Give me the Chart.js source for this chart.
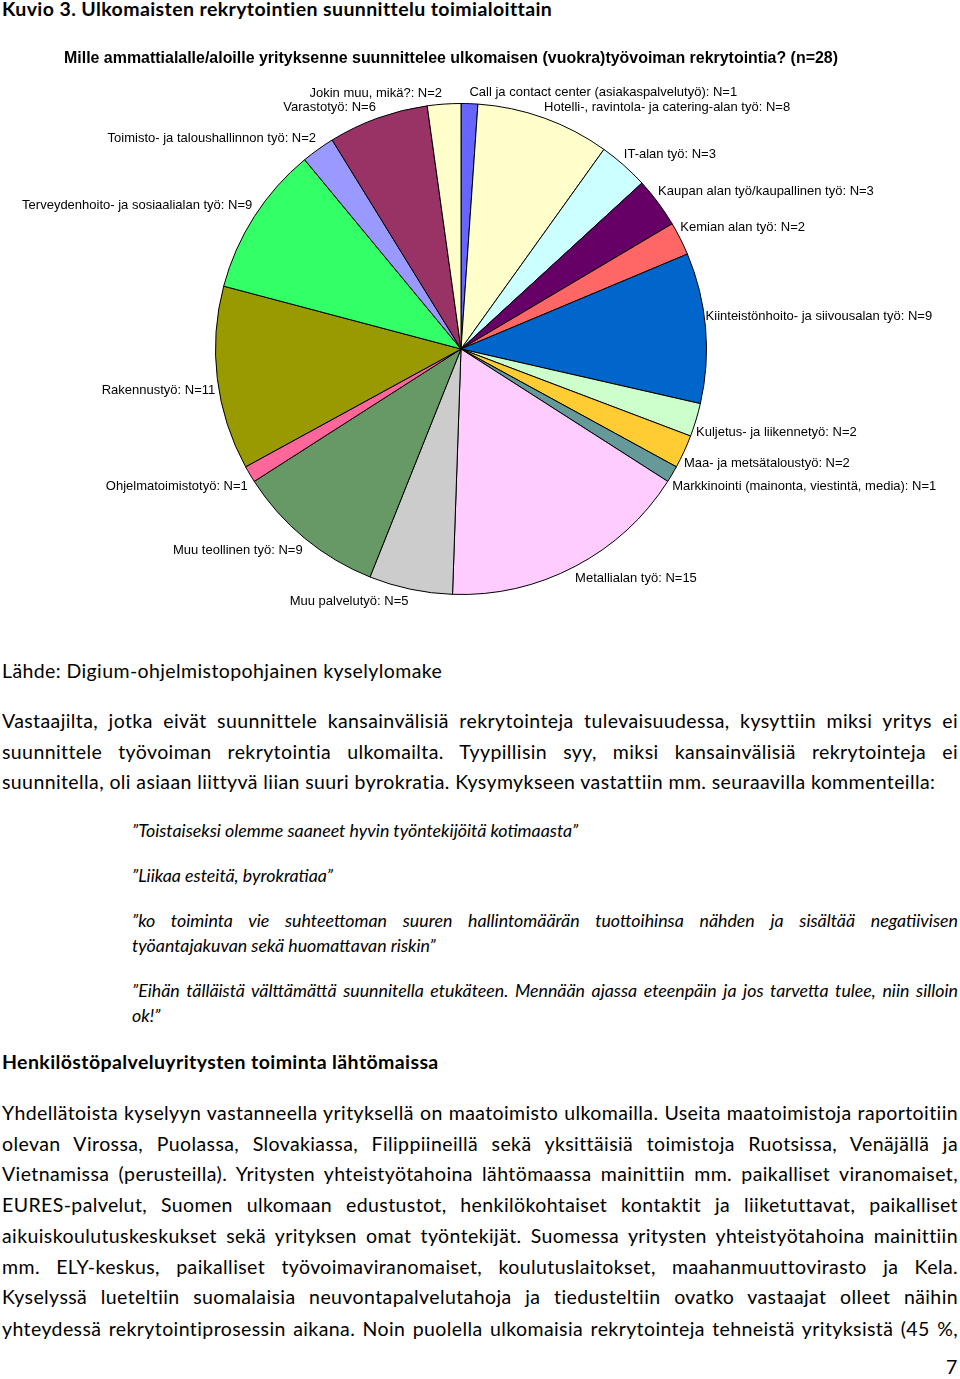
<!DOCTYPE html>
<html>
<head>
<meta charset="utf-8">
<script src="https://cdn.jsdelivr.net/npm/chart.js@4.4.1/dist/chart.umd.min.js"></script>
<style>
  html, body { margin: 0; padding: 0; background: #fff; }
  body { width: 960px; height: 1379px; position: relative; overflow: hidden;
         font-family: Lato, "Open Sans", sans-serif; font-size: 19.5px; letter-spacing: 0.4px; color: #000; }
  .ln { position: absolute; left: 2px; width: 956px; line-height: 24px; white-space: nowrap; }
  .j { text-align: justify; text-align-last: justify; white-space: normal; }
  .q { left: 132px; width: 826px; font-style: italic; font-size: 17.8px; letter-spacing: 0; }
  .b { font-weight: bold; }
  #chartBox { position: absolute; left: 0; top: 36px; width: 960px; height: 584px; letter-spacing: 0; }
  #chartBox canvas { letter-spacing: 0; }
</style>
</head>
<body>
<div class="ln b" style="top:-3px">Kuvio 3. Ulkomaisten rekrytointien suunnittelu toimialoittain</div>

<div id="chartBox"><canvas id="pieChart" width="960" height="584"></canvas></div>

<div class="ln" style="top:659px">Lähde: Digium-ohjelmistopohjainen kyselylomake</div>

<div class="ln j" style="top:709px">Vastaajilta, jotka eivät suunnittele kansainvälisiä rekrytointeja tulevaisuudessa, kysyttiin miksi yritys ei</div>
<div class="ln j" style="top:740px">suunnittele työvoiman rekrytointia ulkomailta. Tyypillisin syy, miksi kansainvälisiä rekrytointeja ei</div>
<div class="ln" style="top:770px">suunnitella, oli asiaan liittyvä liian suuri byrokratia. Kysymykseen vastattiin mm. seuraavilla kommenteilla:</div>

<div class="ln q" style="top:818px">”Toistaiseksi olemme saaneet hyvin työntekijöitä kotimaasta”</div>
<div class="ln q" style="top:863px">”Liikaa esteitä, byrokratiaa”</div>
<div class="ln q j" style="top:908px">”ko toiminta vie suhteettoman suuren hallintomäärän tuottoihinsa nähden ja sisältää negatiivisen</div>
<div class="ln q" style="top:933px">työantajakuvan sekä huomattavan riskin”</div>
<div class="ln q j" style="top:978px">”Eihän tälläistä välttämättä suunnitella etukäteen. Mennään ajassa eteenpäin ja jos tarvetta tulee, niin silloin</div>
<div class="ln q" style="top:1003px">ok!”</div>

<div class="ln b" style="top:1050px">Henkilöstöpalveluyritysten toiminta lähtömaissa</div>

<div class="ln j" style="top:1101px">Yhdellätoista kyselyyn vastanneella yrityksellä on maatoimisto ulkomailla. Useita maatoimistoja raportoitiin</div>
<div class="ln j" style="top:1132px">olevan Virossa, Puolassa, Slovakiassa, Filippiineillä sekä yksittäisiä toimistoja Ruotsissa, Venäjällä ja</div>
<div class="ln j" style="top:1162px">Vietnamissa (perusteilla). Yritysten yhteistyötahoina lähtömaassa mainittiin mm. paikalliset viranomaiset,</div>
<div class="ln j" style="top:1193px">EURES-palvelut, Suomen ulkomaan edustustot, henkilökohtaiset kontaktit ja liiketuttavat, paikalliset</div>
<div class="ln j" style="top:1224px">aikuiskoulutuskeskukset sekä yrityksen omat työntekijät. Suomessa yritysten yhteistyötahoina mainittiin</div>
<div class="ln j" style="top:1255px">mm. ELY-keskus, paikalliset työvoimaviranomaiset, koulutuslaitokset, maahanmuuttovirasto ja Kela.</div>
<div class="ln j" style="top:1285px">Kyselyssä lueteltiin suomalaisia neuvontapalvelutahoja ja tiedusteltiin ovatko vastaajat olleet näihin</div>
<div class="ln j" style="top:1317px">yhteydessä rekrytointiprosessin aikana. Noin puolella ulkomaisia rekrytointeja tehneistä yrityksistä (45 %,</div>

<div class="ln" style="top:1355px;left:946px;width:auto">7</div>

<script>
// --- Data ---
const chartTitle = 'Mille ammattialalle/aloille yrityksenne suunnittelee ulkomaisen (vuokra)työvoiman rekrytointia? (n=28)';

const categories = [
    'Call ja contact center (asiakaspalvelutyö)',
    'Hotelli-, ravintola- ja catering-alan työ',
    'IT-alan työ',
    'Kaupan alan työ/kaupallinen työ',
    'Kemian alan työ',
    'Kiinteistönhoito- ja siivousalan työ',
    'Kuljetus- ja liikennetyö',
    'Maa- ja metsätaloustyö',
    'Markkinointi (mainonta, viestintä, media)',
    'Metallialan työ',
    'Muu palvelutyö',
    'Muu teollinen työ',
    'Ohjelmatoimistotyö',
    'Rakennustyö',
    'Terveydenhoito- ja sosiaalialan työ',
    'Toimisto- ja taloushallinnon työ',
    'Varastotyö',
    'Jokin muu, mikä?'
];

const counts = [1, 8, 3, 3, 2, 9, 2, 2, 1, 15, 5, 9, 1, 11, 9, 2, 6, 2];

const sliceColors = [
    '#6666ff', '#ffffcc', '#ccffff', '#660066', '#ff6666', '#0066cc',
    '#ccffcc', '#ffcc33', '#669999', '#ffccff', '#cccccc', '#669966',
    '#ff6699', '#999900', '#33ff66', '#9999ff', '#993366', '#ffffcc'
];

// --- Title + outside labels (Excel-style, corner touching the rim) ---
const labelPlugin = {
    id: 'pieLabels',
    afterDraw(chart) {
        const ctx = chart.ctx;
        ctx.save();
        ctx.letterSpacing = '0px';
        ctx.fillStyle = '#000';

        // title, squeezed into the width of the original narrow bold font
        ctx.font = 'bold 17px "Liberation Sans", Arial, sans-serif';
        ctx.textAlign = 'center';
        ctx.textBaseline = 'middle';
        ctx.fillText(chartTitle, 451, 22, 774);

        ctx.font = '13px "Liberation Sans", Arial, sans-serif';
        const meta = chart.getDatasetMeta(0);
        meta.data.forEach((arc, i) => {
            const { x, y, startAngle, endAngle, outerRadius } = arc.getProps(['x', 'y', 'startAngle', 'endAngle', 'outerRadius'], true);
            const mid = (startAngle + endAngle) / 2;
            const px = x + Math.cos(mid) * outerRadius;
            const py = y + Math.sin(mid) * outerRadius;
            const right = Math.cos(mid) >= 0;
            const upper = Math.sin(mid) < 0;
            ctx.textAlign = right ? 'left' : 'right';
            ctx.textBaseline = 'middle';
            const tx = px + (right ? 0 : -2);
            const ty = py + (upper ? -11 : 12);
            ctx.fillText(categories[i] + ': N=' + counts[i], tx, ty);
        });
        ctx.restore();
    }
};

const ctx = document.getElementById('pieChart');
new Chart(ctx, {
    type: 'pie',
    data: {
        labels: categories,
        datasets: [{
            data: counts,
            backgroundColor: sliceColors,
            borderColor: '#000000',
            borderWidth: 1
        }]
    },
    options: {
        responsive: false,
        animation: false,
        layout: { padding: { left: 215, right: 253, top: 67, bottom: 25 } },
        plugins: {
            legend: { display: false },
            tooltip: { enabled: false }
        }
    },
    plugins: [labelPlugin]
});
</script>
</body>
</html>
